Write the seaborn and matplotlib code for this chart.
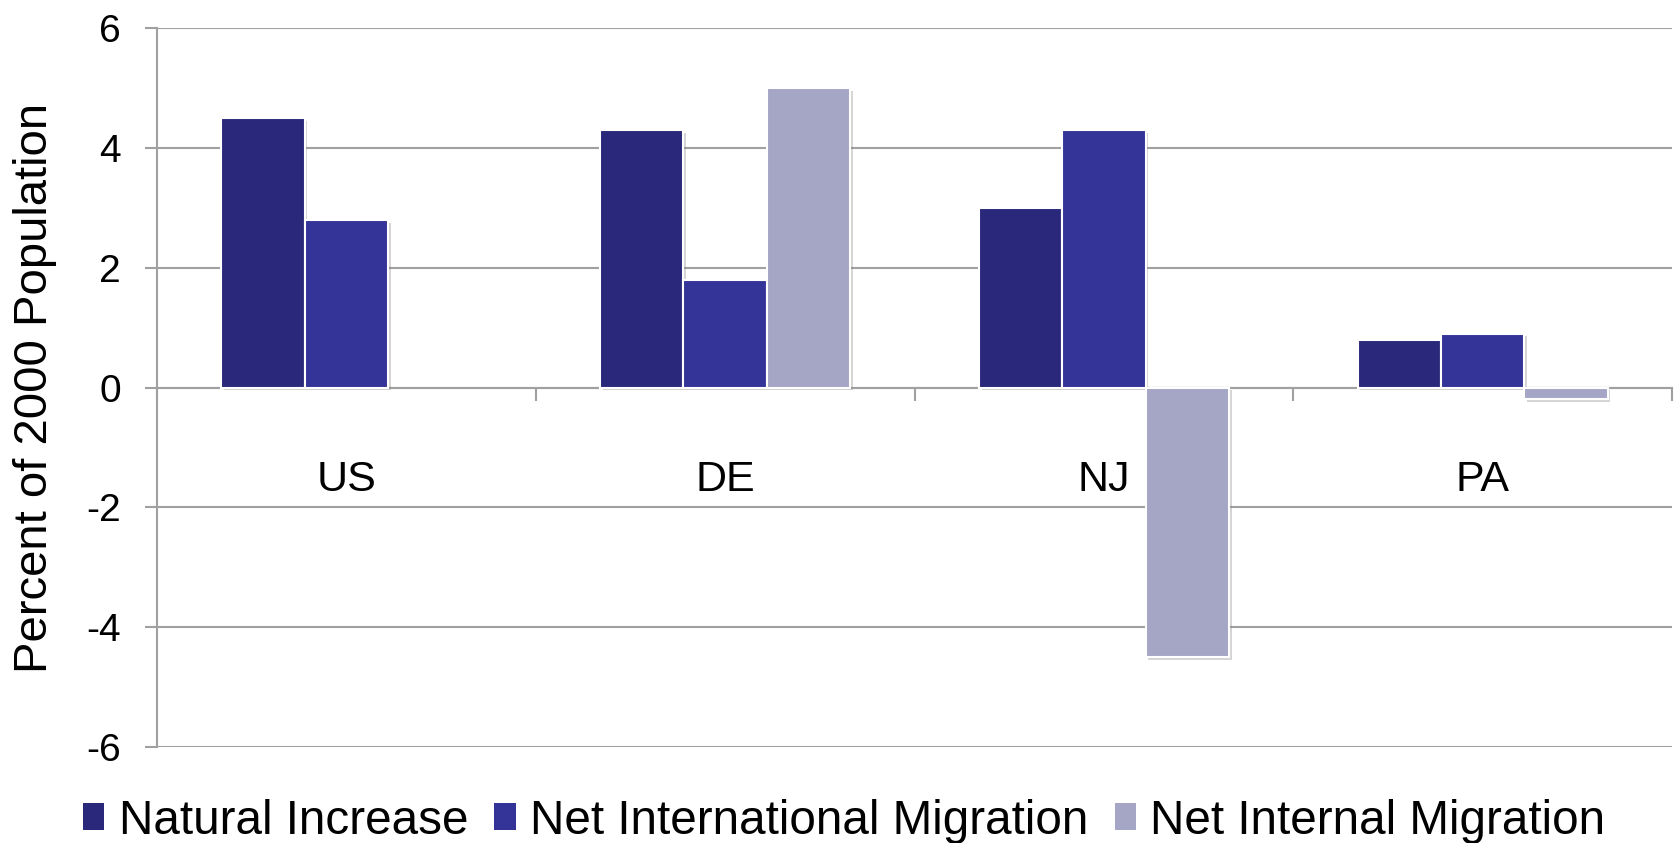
import numpy as np
import pandas as pd
import seaborn as sns
import matplotlib.pyplot as plt
import matplotlib.patheffects as pe

# dados
regioes = ["US", "DE", "NJ", "PA"]
series = ["Natural Increase", "Net International Migration", "Net Internal Migration"]
natural = [4.5, 4.3, 3.0, 0.8]
internacional = [2.8, 1.8, 4.3, 0.9]
interna = [np.nan, 5.0, -4.5, -0.2]
cores = ["#29287A", "#343498", "#A5A5C6"]

df = pd.DataFrame({
    "Regiao": regioes * 3,
    "Serie": [series[0]] * 4 + [series[1]] * 4 + [series[2]] * 4,
    "Valor": natural + internacional + interna,
})

sns.set_style("white")
plt.rcParams["font.family"] = ["Liberation Sans", "DejaVu Sans"]
plt.rcParams["axes.unicode_minus"] = False
plt.rcParams["text.color"] = "black"
plt.rcParams["xtick.labelcolor"] = "black"
plt.rcParams["ytick.labelcolor"] = "black"
plt.rcParams["axes.labelcolor"] = "black"

fig = plt.figure(figsize=(16.77, 8.43), dpi=100)
ax = fig.add_axes([157 / 1677, 1 - 747 / 843, 1515 / 1677, 719 / 843])

sns.barplot(data=df, x="Regiao", y="Valor", hue="Serie", order=regioes,
            hue_order=series, palette=cores, width=0.66, saturation=1,
            edgecolor="white", linewidth=1.5, ax=ax, legend=True, zorder=3)

handles, labels = ax.get_legend_handles_labels()

sombra = [pe.SimplePatchShadow(offset=(2, -2), shadow_rgbFace="#888888", alpha=0.35), pe.Normal()]
for p in ax.patches:
    p.set_path_effects(sombra)

cinza = "#A0A0A0"
ax.set_ylim(-6, 6)
ax.set_xlim(-0.5, 3.5)
ax.set_yticks([-6, -4, -2, 0, 2, 4, 6])
ax.yaxis.grid(True, color=cinza, linewidth=1.5, zorder=0)
ax.set_axisbelow(True)
for s in ["top", "right"]:
    ax.spines[s].set_visible(False)
ax.spines["left"].set_color(cinza)
ax.spines["left"].set_linewidth(1.5)
ax.spines["bottom"].set_position(("data", 0))
ax.spines["bottom"].set_color(cinza)
ax.spines["bottom"].set_linewidth(1.5)

ax.tick_params(axis="y", direction="out", length=9, width=1.5, color=cinza,
               labelsize=28, pad=17, left=True, labelcolor="black")
ax.set_xticks(range(4))
ax.set_xticklabels(regioes)
ax.tick_params(axis="x", which="major", length=0, labelsize=31, pad=52, labelcolor="black")
ax.set_xticks([-0.5, 0.5, 1.5, 2.5, 3.5], minor=True)
ax.tick_params(axis="x", which="minor", direction="out", length=9, width=1.5,
               color=cinza, bottom=True)

ax.set_xlabel("")
ax.set_ylabel("Percent of 2000 Population", fontsize=34, color="black")
ax.yaxis.set_label_coords(-0.066, 0.5)

leg = ax.legend(handles, labels, ncol=3, loc="center left",
                bbox_to_anchor=(83 / 1677, 1 - 821 / 843), bbox_transform=fig.transFigure,
                frameon=False, fontsize=34.3, handlelength=0.45, handleheight=0.5,
                handletextpad=0.3, columnspacing=0.55, borderpad=0, borderaxespad=0)
for h in leg.legend_handles:
    h.set_path_effects([])
    h.set_edgecolor("none")

fig.savefig("out.png", dpi=100)
